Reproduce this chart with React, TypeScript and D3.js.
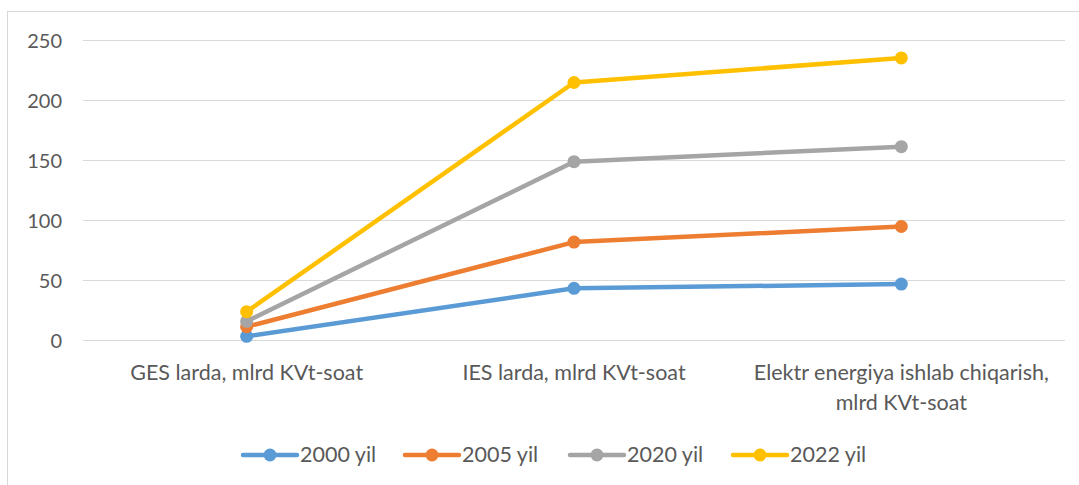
import React from "react";
import * as d3 from "d3";

const categories = ["GES larda, mlrd KVt-soat", "IES larda, mlrd KVt-soat", "Elektr energiya ishlab chiqarish, mlrd KVt-soat"];
const categoryLines = [["GES larda, mlrd KVt-soat"], ["IES larda, mlrd KVt-soat"], ["Elektr energiya ishlab chiqarish,", "mlrd KVt-soat"]];
const seriesNames = ["2000 yil", "2005 yil", "2020 yil", "2022 yil"];
const s2000 = [3.5, 43.5, 47];
const s2005 = [11.5, 82, 95];
const s2020 = [16, 149, 161.5];
const s2022 = [24, 215, 235.5];
const yTicks = [0, 50, 100, 150, 200, 250];
const colors = ["#5B9BD5", "#ED7D31", "#A5A5A5", "#FFC000"];

const W = 1079, H = 485;
const plotLeft = 83, plotRight = 1065, plotTop = 40.5, plotBottom = 340.5;

export default function App() {
  const x = d3.scaleBand<string>().domain(categories).range([plotLeft, plotRight]);
  const y = d3.scaleLinear().domain([0, 250]).range([plotBottom, plotTop]);
  const allSeries = [s2000, s2005, s2020, s2022];
  const line = d3.line<number>().x((_, i) => x(categories[i])! + x.bandwidth() / 2).y((d) => y(d));
  const font = "Lato, 'Open Sans', sans-serif";
  const textColor = "#595959";
  const legendStarts = [243, 405, 570, 733];
  const legendY = 455;
  return (
    <svg width={W} height={H} style={{ position: "absolute", left: 0, top: 0, background: "#fff" }} fontFamily={font}>
      <rect x={0} y={0} width={W} height={H} fill="#fff" />
      <line x1={7.5} x2={7.5} y1={11} y2={H} stroke="#D9D9D9" strokeWidth={1} />
      <line x1={7} x2={W} y1={11.5} y2={11.5} stroke="#D9D9D9" strokeWidth={1} />
      {yTicks.map((t) => (
        <g key={t}>
          <line x1={plotLeft} x2={plotRight} y1={y(t)} y2={y(t)} stroke="#D9D9D9" strokeWidth={1.2} />
          <text x={62} y={y(t) + 7} textAnchor="end" fontSize={20} fill={textColor}>{t}</text>
        </g>
      ))}
      {categoryLines.map((lines, i) => (
        <text key={i} textAnchor="middle" fontSize={21.5} fill={textColor}>
          {lines.map((l, j) => (
            <tspan key={j} x={x(categories[i])! + x.bandwidth() / 2} y={380 + j * 30}>{l}</tspan>
          ))}
        </text>
      ))}
      {allSeries.map((s, k) => (
        <g key={k}>
          <path d={line(s)!} fill="none" stroke={colors[k]} strokeWidth={4.5} strokeLinejoin="round" strokeLinecap="round" />
          {s.map((v, i) => (
            <circle key={i} cx={x(categories[i])! + x.bandwidth() / 2} cy={y(v)} r={6.5} fill={colors[k]} />
          ))}
        </g>
      ))}
      {seriesNames.map((n, k) => (
        <g key={n}>
          <line x1={legendStarts[k]} x2={legendStarts[k] + 54} y1={legendY} y2={legendY} stroke={colors[k]} strokeWidth={4.5} strokeLinecap="round" />
          <circle cx={legendStarts[k] + 27} cy={legendY} r={6.5} fill={colors[k]} />
          <text x={legendStarts[k] + 57} y={legendY + 7} fontSize={21.5} fill={textColor}>{n}</text>
        </g>
      ))}
    </svg>
  );
}
